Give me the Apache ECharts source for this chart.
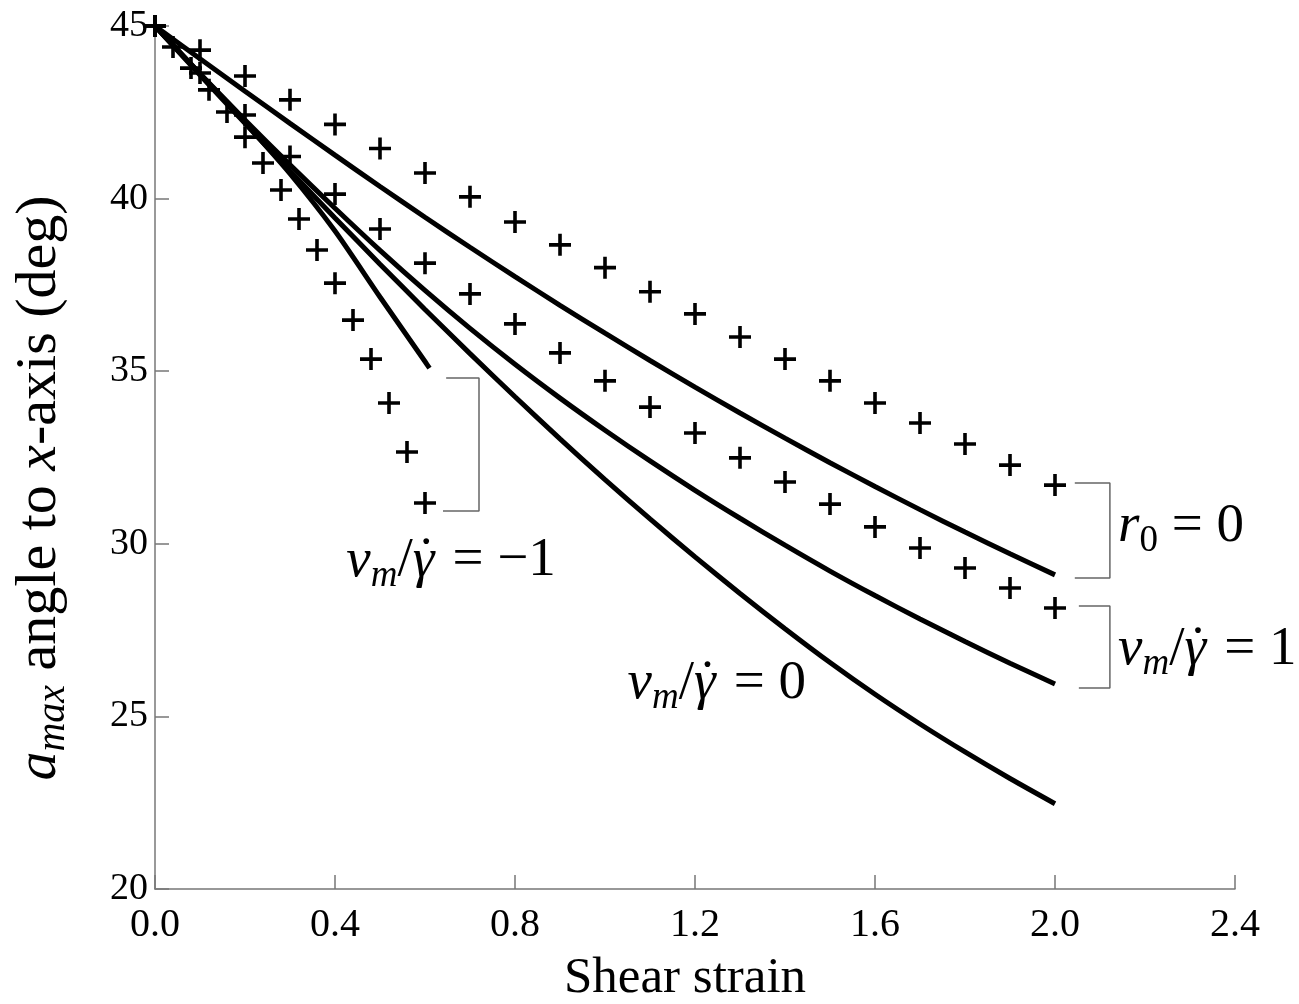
<!DOCTYPE html>
<html>
<head>
<meta charset="utf-8">
<script src="https://cdn.jsdelivr.net/npm/echarts/dist/echarts.min.js"></script>
<style>html,body{margin:0;padding:0;background:#fff;}#c{width:1299px;height:1004px;}</style>
</head>
<body>
<div id="c"></div>
<script>
// ---- data ----
const xLine = [0,0.1,0.2,0.3,0.4,0.5,0.6,0.7,0.8,0.9,1.0,1.1,1.2,1.3,1.4,1.5,1.6,1.7,1.8,1.9,2.0];
const lineR0 = [45,44.05,43.11,42.18,41.26,40.35,39.46,38.59,37.74,36.91,36.10,35.31,34.54,33.79,33.06,32.35,31.66,30.99,30.34,29.71,29.10];
const lineV1 = [45,43.62,42.28,40.98,39.72,38.5,37.34,36.24,35.2,34.22,33.29,32.4,31.55,30.74,29.96,29.21,28.5,27.82,27.17,26.54,25.94];
const lineV0 = [45,43.58,42.18,40.8,39.44,38.1,36.79,35.51,34.26,33.04,31.86,30.72,29.62,28.56,27.54,26.56,25.64,24.78,23.97,23.2,22.47];
const xLineM1 = [0,0.1,0.2,0.3,0.4,0.5,0.6,0.61];
const lineM1 = [45,43.62,42.2,40.72,39.06,37.15,35.28,35.09];

const xPlus = [0,0.1,0.2,0.3,0.4,0.5,0.6,0.7,0.8,0.9,1.0,1.1,1.2,1.3,1.4,1.5,1.6,1.7,1.8,1.9,2.0];
const plusR0 = [45,44.3,43.55,42.86,42.15,41.45,40.74,40.05,39.32,38.66,38.0,37.3,36.66,35.99,35.35,34.72,34.08,33.5,32.89,32.28,31.7];
const plusV1 = [45,43.64,42.42,41.22,40.13,39.12,38.13,37.24,36.37,35.53,34.72,33.96,33.21,32.49,31.79,31.15,30.49,29.88,29.3,28.72,28.14];
const xPlusM1 = [0,0.04,0.08,0.12,0.16,0.2,0.24,0.28,0.32,0.36,0.4,0.44,0.48,0.52,0.56,0.6];
const plusM1 = [45,44.39,43.78,43.15,42.51,41.78,41.03,40.25,39.41,38.51,37.55,36.48,35.35,34.08,32.66,31.18];

// bracket annotations (data coordinates)
const bracketM1 = [[0.647,34.8],[0.72,34.8],[0.72,30.95],[0.64,30.95]];
const bracketR0 = [[2.044,31.76],[2.122,31.76],[2.122,29.01],[2.044,29.01]];
const bracketV1 = [[2.053,28.2],[2.122,28.2],[2.122,25.82],[2.053,25.82]];

// label anchors (data coordinates)
const labelPos = {m1:[0.425,29.5], v0:[1.05,25.95], r0:[2.14,30.5], v1:[2.14,26.95]};
const xTicks = [0,0.4,0.8,1.2,1.6,2.0,2.4];
const yTicks = [20,25,30,35,40,45];

// ---- build ----
const FF = 'Liberation Serif';
const pair = (xs, ys) => xs.map((x,i)=>[x, ys[i]]);
const PLUS = 'path://M9.2 0H12.8V9.2H22V12.8H12.8V22H9.2V12.8H0V9.2H9.2Z';

const LF = 55, SF = 37;
const rich = {
  it: {fontFamily: FF, fontStyle: 'italic', fontSize: LF, color: '#000'},
  rm: {fontFamily: FF, fontSize: LF, color: '#000'},
  g: {fontFamily: FF, fontStyle: 'italic', fontSize: LF, color: '#000', width: 1},
  dot: {fontFamily: FF, fontSize: LF, color: '#000', width: 25, align: 'center'},
  subi: {fontFamily: FF, fontStyle: 'italic', fontSize: SF, color: '#000', padding: [30,0,0,0]},
  subr: {fontFamily: FF, fontSize: SF, color: '#000', padding: [30,0,0,0]}
};
const vmText = (rhs) => '{it|v}{subi|m}{rm|/}{g|\u03B3}{dot|\u02D9}{rm| = ' + rhs + '}';
const labels = [
  {pos: labelPos.m1, text: vmText('\u22121')},
  {pos: labelPos.v0, text: vmText('0')},
  {pos: labelPos.r0, text: '{it|r}{subr|0}{rm| = 0}'},
  {pos: labelPos.v1, text: vmText('1')}
];

const lineSeries = (data) => ({
  type: 'line', data, showSymbol: false, symbol: 'none', smooth: 0.25, clip: false,
  lineStyle: {color: '#000', width: 5}, z: 3
});
const plusSeries = (data) => ({
  type: 'scatter', data, symbol: PLUS, symbolSize: 22, clip: false,
  itemStyle: {color: '#000', opacity: 1}, z: 4
});
const bracketSeries = (data) => ({
  type: 'line', data, symbol: 'none', clip: false,
  lineStyle: {color: '#666', width: 1.5}, z: 2
});

const series = [
  lineSeries(pair(xLine, lineR0)),
  lineSeries(pair(xLine, lineV1)),
  lineSeries(pair(xLine, lineV0)),
  lineSeries(pair(xLineM1, lineM1)),
  plusSeries(pair(xPlus, plusR0)),
  plusSeries(pair(xPlus, plusV1)),
  plusSeries(pair(xPlusM1, plusM1)),
  bracketSeries(bracketM1),
  bracketSeries(bracketR0),
  bracketSeries(bracketV1),
  {
    type: 'scatter', symbolSize: 0, clip: false, z: 5,
    itemStyle: {opacity: 1},
    data: labels.map(l => ({value: l.pos, label: {
      show: true, position: 'right', distance: 0, formatter: l.text, rich
    }}))
  }
];

const axisColor = '#777';
const chart = echarts.init(document.getElementById('c'), null, {renderer: 'canvas'});
chart.setOption({
  animation: false,
  backgroundColor: '#fff',
  grid: {left: 155, right: 64, top: 26, bottom: 115, containLabel: false, outerBoundsMode: 'none'},
  xAxis: {
    type: 'value', min: xTicks[0], max: xTicks[xTicks.length-1], interval: 0.4,
    axisLine: {show: true, lineStyle: {color: axisColor, width: 1.5}},
    axisTick: {show: true, inside: true, length: 14, lineStyle: {color: axisColor, width: 1.5}},
    splitLine: {show: false},
    axisLabel: {formatter: v => Number(v).toFixed(1), fontFamily: FF, fontSize: 40, color: '#000', margin: 16},
    name: 'Shear strain', nameLocation: 'middle', nameGap: 64,
    nameTextStyle: {fontFamily: FF, fontSize: 51, color: '#000', padding: [0,20,0,0]}
  },
  yAxis: {
    type: 'value', min: yTicks[0], max: yTicks[yTicks.length-1], interval: 5,
    axisLine: {show: true, lineStyle: {color: axisColor, width: 1.5}},
    axisTick: {show: true, inside: true, length: 14, lineStyle: {color: axisColor, width: 1.5}},
    splitLine: {show: false},
    axisLabel: {fontFamily: FF, fontSize: 38, color: '#000', margin: 7}
  },
  graphic: [{
    type: 'text', x: 40, y: 488, rotation: Math.PI/2,
    style: {
      text: '{it|a}{sub|max}{rm| angle to }{it|x}{rm|-axis (deg)}',
      align: 'center', verticalAlign: 'middle',
      rich: {
        it: {fontFamily: FF, fontStyle: 'italic', fontSize: 58, fill: '#000'},
        rm: {fontFamily: FF, fontSize: 58, fill: '#000'},
        sub: {fontFamily: FF, fontStyle: 'italic', fontSize: 40, fill: '#000', padding: [26,0,0,0]}
      }
    }
  }],
  series
});
</script>
</body>
</html>
